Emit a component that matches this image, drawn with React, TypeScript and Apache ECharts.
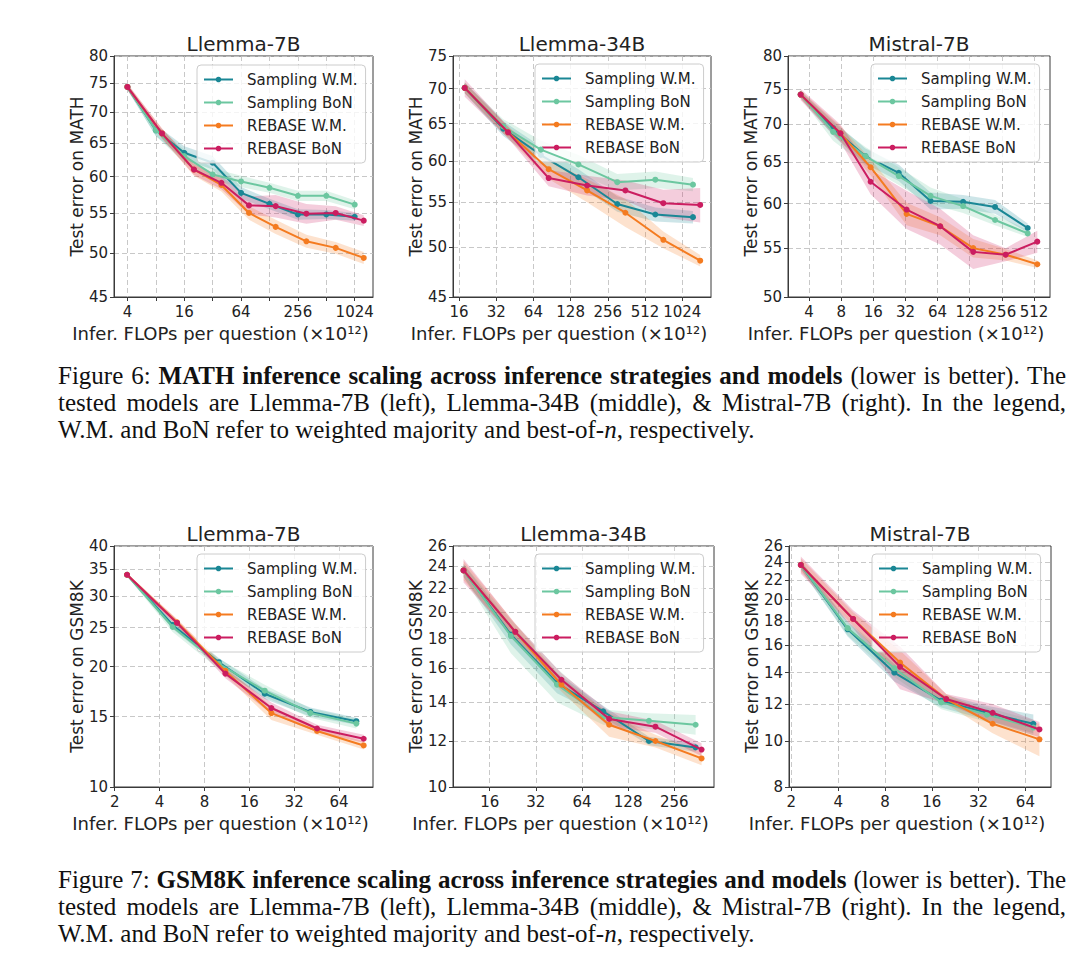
import React, { useEffect, useRef } from "react";
import * as echarts from "echarts";

// ---------- shared ----------
const SERIES_NAMES = ["Sampling W.M.", "Sampling BoN", "REBASE W.M.", "REBASE BoN"];
const COLORS = ["#1a8795", "#6cc7a0", "#f47b20", "#cb1d60"];
const FONT = "DejaVu Sans";

// ---------- Panel 1: Llemma-7B, MATH ----------
const p1SamplingX = [4, 8, 16, 32, 64, 128, 256, 512, 1024];
const p1RebaseX = [4, 9.3, 20.3, 39.6, 77.7, 149, 315, 644, 1277];
const p1SamplingWM = [74.3, 67.0, 63.5, 62.0, 57.7, 56.2, 54.8, 54.8, 54.5];
const p1SamplingBoN = [74.3, 67.0, 63.0, 60.3, 59.3, 58.4, 57.3, 57.3, 56.1];
const p1RebaseWM = [74.3, 66.5, 61.0, 58.8, 55.0, 53.2, 51.4, 50.6, 49.4];
const p1RebaseBoN = [74.3, 66.5, 61.0, 59.1, 56.0, 55.9, 54.9, 55.0, 54.0];
const p1SpreadSWM = [0.5, 0.9, 1.0, 1.0, 0.8, 0.7, 0.7, 0.6, 0.5];
const p1SpreadSBoN = [0.5, 0.9, 1.0, 0.9, 0.8, 0.7, 0.7, 0.7, 0.6];
const p1SpreadRWM = [0.5, 0.8, 0.9, 0.9, 0.9, 0.9, 0.8, 0.7, 0.7];
const p1SpreadRBoN = [0.6, 0.8, 0.8, 0.9, 1.2, 1.5, 1.3, 0.9, 0.7];
const p1XTicks = [4, 8, 16, 32, 64, 128, 256, 512, 1024];
const p1XLabels = [4, 16, 64, 256, 1024];
const p1YTicks = [45, 50, 55, 60, 65, 70, 75, 80];

// ---------- Panel 2: Llemma-34B, MATH ----------
const p2SamplingX = [17.8, 36.5, 73.5, 148, 305, 620, 1250];
const p2RebaseX = [17.8, 39.9, 85, 174, 355, 719, 1430];
const p2SamplingWM = [70.1, 64.3, 60.8, 58.0, 54.8, 53.6, 53.3];
const p2SamplingBoN = [70.1, 64.6, 61.5, 59.6, 57.4, 57.7, 57.1];
const p2RebaseWM = [70.1, 63.8, 59.0, 56.4, 53.8, 50.8, 48.6];
const p2RebaseBoN = [70.1, 63.8, 57.9, 57.0, 56.4, 54.9, 54.7];
const p2SpreadSWM = [0.8, 1.0, 1.1, 1.0, 0.9, 0.8, 0.7];
const p2SpreadSBoN = [0.8, 1.0, 1.2, 1.2, 1.0, 1.0, 0.8];
const p2SpreadRWM = [0.8, 0.8, 1.2, 1.4, 1.6, 0.9, 0.6];
const p2SpreadRBoN = [1.3, 0.8, 1.0, 1.2, 1.2, 1.6, 2.0];
const p2XTicks = [16, 32, 64, 128, 256, 512, 1024];
const p2XLabels = [16, 32, 64, 128, 256, 512, 1024];
const p2YTicks = [45, 50, 55, 60, 65, 70, 75];

// ---------- Panel 3: Mistral-7B, MATH ----------
const p3SamplingX = [3.34, 6.72, 13.5, 27.7, 55.0, 111, 221, 447];
const p3RebaseX = [3.34, 7.88, 15.1, 32.8, 67.7, 138, 278, 550];
const p3SamplingWM = [74.2, 69.5, 65.8, 63.7, 60.3, 60.2, 59.6, 57.2];
const p3SamplingBoN = [74.2, 69.0, 65.8, 63.3, 60.9, 59.7, 58.1, 56.6];
const p3RebaseWM = [74.2, 68.8, 64.4, 58.8, 57.4, 55.0, 54.3, 53.3];
const p3RebaseBoN = [74.2, 68.8, 62.6, 59.3, 57.4, 54.6, 54.3, 55.7];
const p3SpreadSWM = [0.5, 1.0, 1.0, 1.0, 1.0, 0.8, 0.8, 0.5];
const p3SpreadSBoN = [0.5, 1.2, 1.2, 1.1, 1.0, 0.8, 0.6, 0.4];
const p3SpreadRWM = [0.6, 1.0, 1.0, 1.3, 1.0, 1.0, 0.6, 0.4];
const p3SpreadRBoN = [0.8, 1.2, 1.5, 2.2, 2.0, 1.8, 0.7, 1.2];
const p3XTicks = [4, 8, 16, 32, 64, 128, 256, 512];
const p3XLabels = [4, 8, 16, 32, 64, 128, 256, 512];
const p3YTicks = [50, 55, 60, 65, 70, 75, 80];

// ---------- Panel 4: Llemma-7B, GSM8K ----------
const p4SamplingX = [2.42, 4.9, 10.0, 20.3, 41.1, 83.7];
const p4RebaseX = [2.42, 5.24, 11.06, 22.5, 45.6, 93.7];
const p4SamplingWM = [33.9, 25.4, 20.5, 17.1, 15.4, 14.6];
const p4SamplingBoN = [33.9, 25.1, 20.3, 17.4, 15.3, 14.4];
const p4RebaseWM = [33.9, 25.8, 19.5, 15.3, 13.8, 12.7];
const p4RebaseBoN = [33.9, 25.7, 19.2, 15.75, 14.0, 13.2];
const p4SpreadSWM = [0.3, 0.6, 0.5, 0.5, 0.4, 0.3];
const p4SpreadSBoN = [0.3, 0.7, 0.6, 0.6, 0.4, 0.4];
const p4SpreadRWM = [0.3, 0.5, 0.5, 0.6, 0.3, 0.3];
const p4SpreadRBoN = [0.3, 0.5, 0.5, 0.5, 0.3, 0.3];
const p4XTicks = [2, 4, 8, 16, 32, 64];
const p4XLabels = [2, 4, 8, 16, 32, 64];
const p4YTicks = [10, 15, 20, 25, 30, 35, 40];

// ---------- Panel 5: Llemma-34B, GSM8K ----------
const p5SamplingX = [10.8, 22, 44.0, 88, 175, 353];
const p5RebaseX = [10.8, 23.5, 47.0, 96.3, 193, 386];
const p5SamplingWM = [23.6, 18.3, 15.1, 13.5, 12.0, 11.7];
const p5SamplingBoN = [23.6, 18.2, 15.0, 13.2, 13.0, 12.8];
const p5RebaseWM = [23.6, 18.5, 15.0, 12.8, 12.0, 11.2];
const p5RebaseBoN = [23.6, 18.5, 15.3, 13.1, 12.7, 11.6];
const p5SpreadSWM = [0.6, 0.7, 0.6, 0.3, 0.2, 0.2];
const p5SpreadSBoN = [0.6, 1.2, 1.0, 0.4, 0.4, 0.5];
const p5SpreadRWM = [0.9, 0.6, 0.4, 0.6, 0.3, 0.3];
const p5SpreadRBoN = [1.1, 0.6, 0.4, 0.4, 0.3, 0.3];
const p5XTicks = [16, 32, 64, 128, 256];
const p5XLabels = [16, 32, 64, 128, 256];
const p5YTicks = [10, 12, 14, 16, 18, 20, 22, 24, 26];

// ---------- Panel 6: Mistral-7B, GSM8K ----------
const p6SamplingX = [2.3, 4.6, 9.18, 18.4, 36.2, 72];
const p6RebaseX = [2.3, 4.99, 10.0, 19.8, 39.4, 78.8];
const p6SamplingWM = [23.7, 17.3, 14.0, 12.2, 11.5, 10.9];
const p6SamplingBoN = [23.7, 17.4, 14.3, 12.1, 11.4, 10.7];
const p6RebaseWM = [23.7, 18.2, 14.7, 12.3, 10.9, 10.1];
const p6RebaseBoN = [23.7, 18.2, 14.4, 12.3, 11.5, 10.6];
const p6SpreadSWM = [0.5, 0.6, 0.6, 0.4, 0.4, 0.5];
const p6SpreadSBoN = [0.5, 0.6, 0.6, 0.4, 0.4, 0.4];
const p6SpreadRWM = [0.8, 0.6, 0.9, 0.3, 0.5, 0.8];
const p6SpreadRBoN = [1.0, 0.8, 1.5, 0.3, 0.5, 0.4];
const p6XTicks = [2, 4, 8, 16, 32, 64];
const p6XLabels = [2, 4, 8, 16, 32, 64];
const p6YTicks = [8, 10, 12, 14, 16, 18, 20, 22, 24, 26];

const TITLES = ["Llemma-7B", "Llemma-34B", "Mistral-7B", "Llemma-7B", "Llemma-34B", "Mistral-7B"];
const Y_NAMES = ["Test error on MATH", "Test error on MATH", "Test error on MATH", "Test error on GSM8K", "Test error on GSM8K", "Test error on GSM8K"];
const X_NAME = "Infer. FLOPs per question (×10¹²)";

type Panel = {
  grid: { left: number; top: number; width: number; height: number };
  xRange: [number, number];
  yRange: [number, number];
  xTicks: number[];
  xLabels: number[];
  yTicks: number[];
  samplingX: number[];
  rebaseX: number[];
  values: number[][];
  spreads: number[][];
  legend: [number, number];
};

const PANELS: Panel[] = [
  {
    grid: { left: 114, top: 56, width: 259, height: 241 },
    xRange: [1.528, 10.644], yRange: [45, 80],
    xTicks: p1XTicks, xLabels: p1XLabels, yTicks: p1YTicks,
    samplingX: p1SamplingX, rebaseX: p1RebaseX,
    values: [p1SamplingWM, p1SamplingBoN, p1RebaseWM, p1RebaseBoN],
    spreads: [p1SpreadSWM, p1SpreadSBoN, p1SpreadRWM, p1SpreadRBoN],
    legend: [197, 65],
  },
  {
    grid: { left: 453, top: 56, width: 258, height: 241 },
    xRange: [3.839, 10.772], yRange: [45, 75],
    xTicks: p2XTicks, xLabels: p2XLabels, yTicks: p2YTicks,
    samplingX: p2SamplingX, rebaseX: p2RebaseX,
    values: [p2SamplingWM, p2SamplingBoN, p2RebaseWM, p2RebaseBoN],
    spreads: [p2SpreadSWM, p2SpreadSBoN, p2SpreadRWM, p2SpreadRBoN],
    legend: [535, 64],
  },
  {
    grid: { left: 788, top: 56, width: 262, height: 241 },
    xRange: [1.346, 9.498], yRange: [50, 80],
    xTicks: p3XTicks, xLabels: p3XLabels, yTicks: p3YTicks,
    samplingX: p3SamplingX, rebaseX: p3RebaseX,
    values: [p3SamplingWM, p3SamplingBoN, p3RebaseWM, p3RebaseBoN],
    spreads: [p3SpreadSWM, p3SpreadSBoN, p3SpreadRWM, p3SpreadRBoN],
    legend: [871, 64],
  },
  {
    grid: { left: 114, top: 546, width: 259, height: 241 },
    xRange: [0.984, 6.758], yRange: [10, 40],
    xTicks: p4XTicks, xLabels: p4XLabels, yTicks: p4YTicks,
    samplingX: p4SamplingX, rebaseX: p4RebaseX,
    values: [p4SamplingWM, p4SamplingBoN, p4RebaseWM, p4RebaseBoN],
    spreads: [p4SpreadSWM, p4SpreadSBoN, p4SpreadRWM, p4SpreadRBoN],
    legend: [197, 554],
  },
  {
    grid: { left: 453, top: 546, width: 261, height: 241 },
    xRange: [3.204, 8.862], yRange: [10, 26],
    xTicks: p5XTicks, xLabels: p5XLabels, yTicks: p5YTicks,
    samplingX: p5SamplingX, rebaseX: p5RebaseX,
    values: [p5SamplingWM, p5SamplingBoN, p5RebaseWM, p5RebaseBoN],
    spreads: [p5SpreadSWM, p5SpreadSBoN, p5SpreadRWM, p5SpreadRBoN],
    legend: [535, 554],
  },
  {
    grid: { left: 789, top: 546, width: 262, height: 241 },
    xRange: [0.949, 6.547], yRange: [8, 26],
    xTicks: p6XTicks, xLabels: p6XLabels, yTicks: p6YTicks,
    samplingX: p6SamplingX, rebaseX: p6RebaseX,
    values: [p6SamplingWM, p6SamplingBoN, p6RebaseWM, p6RebaseBoN],
    spreads: [p6SpreadSWM, p6SpreadSBoN, p6SpreadRWM, p6SpreadRBoN],
    legend: [872, 554],
  },
];

const lx = (v: number) => Math.log2(v);
const ly = (v: number) => Math.log(v);

function buildOption() {
  const grids: any[] = [];
  const xAxes: any[] = [];
  const yAxes: any[] = [];
  const series: any[] = [];
  const legends: any[] = [];
  const graphics: any[] = [];

  PANELS.forEach((p, i) => {
    grids.push({
      ...p.grid,
      show: true,
      borderColor: "#3a3a3a",
      borderWidth: 1,
      backgroundColor: "transparent",
      containLabel: false,
      outerBoundsMode: "none",
    });
    xAxes.push({
      type: "value",
      gridIndex: i,
      min: p.xRange[0],
      max: p.xRange[1],
      axisLine: { show: true, onZero: false, lineStyle: { color: "#3a3a3a", width: 1 } },
      axisTick: { show: true, inside: false, length: 4, customValues: p.xTicks.map(lx), lineStyle: { color: "#3a3a3a" } },
      axisLabel: {
        customValues: p.xLabels.map(lx),
        formatter: (v: number) => String(Math.round(Math.pow(2, v))),
        margin: 7,
        fontSize: 15,
        color: "#222",
        fontFamily: FONT,
      },
      splitLine: { show: true, lineStyle: { type: [5, 3], color: "#c2c2c2", width: 0.9 } },
      name: X_NAME,
      nameLocation: "middle",
      nameGap: 27,
      nameTextStyle: { fontSize: 18, color: "#222", fontFamily: FONT, padding: [0, 46, 0, 0] },
    });
    yAxes.push({
      type: "value",
      gridIndex: i,
      min: ly(p.yRange[0]),
      max: ly(p.yRange[1]),
      axisLine: { show: true, onZero: false, lineStyle: { color: "#3a3a3a", width: 1 } },
      axisTick: { show: true, inside: false, length: 4, customValues: p.yTicks.map(ly), lineStyle: { color: "#3a3a3a" } },
      axisLabel: {
        customValues: p.yTicks.map(ly),
        formatter: (v: number) => String(Math.round(Math.exp(v))),
        margin: 6,
        fontSize: 15,
        color: "#222",
        fontFamily: FONT,
      },
      splitLine: { show: true, lineStyle: { type: [5, 3], color: "#c2c2c2", width: 0.9 } },
      name: Y_NAMES[i],
      nameLocation: "middle",
      nameGap: 29,
      nameTextStyle: { fontSize: 17, color: "#222", fontFamily: FONT },
    });

    // confidence bands
    p.values.forEach((vals, s) => {
      const xs = s < 2 ? p.samplingX : p.rebaseX;
      const sp = p.spreads[s];
      series.push({
        type: "custom",
        name: "band-" + i + "-" + s,
        xAxisIndex: i,
        yAxisIndex: i,
        silent: true,
        clip: true,
        z: 1,
        data: [[lx(xs[0]), ly(vals[0])]],
        renderItem: (_params: any, api: any) => {
          const upper = xs.map((x, k) => api.coord([lx(x), ly(vals[k] + sp[k])]));
          const lower = xs.map((x, k) => api.coord([lx(x), ly(vals[k] - sp[k])])).reverse();
          return {
            type: "polygon",
            shape: { points: upper.concat(lower) },
            style: { fill: COLORS[s], opacity: 0.22 },
          };
        },
      });
    });
    // lines
    p.values.forEach((vals, s) => {
      const xs = s < 2 ? p.samplingX : p.rebaseX;
      series.push({
        type: "line",
        name: SERIES_NAMES[s],
        xAxisIndex: i,
        yAxisIndex: i,
        data: xs.map((x, k) => [lx(x), ly(vals[k])]),
        symbol: "circle",
        symbolSize: 6,
        showSymbol: true,
        lineStyle: { width: 2, color: COLORS[s] },
        itemStyle: { color: COLORS[s] },
        z: 3 + s,
        silent: true,
      });
    });

    legends.push({
      data: SERIES_NAMES,
      orient: "vertical",
      left: p.legend[0],
      top: p.legend[1],
      itemWidth: 29,
      itemHeight: 7,
      itemGap: 6,
      padding: [6, 8, 6, 6],
      backgroundColor: "rgba(255,255,255,0.8)",
      borderColor: "#cccccc",
      borderWidth: 1,
      borderRadius: 4,
      selectedMode: false,
      textStyle: { fontSize: 15, color: "#222", fontFamily: FONT, padding: [0, 0, 0, 9], lineHeight: 17 },
    });

    graphics.push({
      type: "text",
      x: p.grid.left + p.grid.width / 2,
      y: p.grid.top - 12,
      style: {
        text: TITLES[i],
        fill: "#222",
        font: `20px "${FONT}"`,
        textAlign: "center",
        textVerticalAlign: "middle",
      },
    });
  });

  return {
    animation: false,
    backgroundColor: "#ffffff",
    grid: grids,
    xAxis: xAxes,
    yAxis: yAxes,
    legend: legends,
    series,
    graphic: graphics,
  };
}

const captionBase: React.CSSProperties = {
  position: "absolute",
  left: 58,
  width: 1008,
  fontFamily: '"Liberation Serif", "Times New Roman", serif',
  fontSize: 25,
  lineHeight: "27px",
  color: "#111",
};
const justified: React.CSSProperties = { textAlign: "justify", textAlignLast: "justify" as any };

function Caption({ top, num, bold }: { top: number; num: number; bold: string }) {
  return (
    <div style={{ ...captionBase, top }}>
      <div style={justified}>
        Figure {num}: <b>{bold}</b> (lower is better). The
      </div>
      <div style={justified}>
        tested models are Llemma-7B (left), Llemma-34B (middle), &amp; Mistral-7B (right). In the legend,
      </div>
      <div>
        W.M. and BoN refer to weighted majority and best-of-<i>n</i>, respectively.
      </div>
    </div>
  );
}

export default function App() {
  const ref = useRef<HTMLDivElement>(null);
  useEffect(() => {
    if (!ref.current) return;
    const chart = echarts.init(ref.current, undefined, { renderer: "svg" });
    chart.setOption(buildOption() as any);
    return () => chart.dispose();
  }, []);
  return (
    <div style={{ position: "absolute", left: 0, top: 0, width: 1080, height: 964, background: "#fff", overflow: "hidden" }}>
      <div ref={ref} style={{ position: "absolute", left: 0, top: 0, width: 1080, height: 964 }} />
      <Caption top={362} num={6} bold="MATH inference scaling across inference strategies and models" />
      <Caption top={866} num={7} bold="GSM8K inference scaling across inference strategies and models" />
    </div>
  );
}
